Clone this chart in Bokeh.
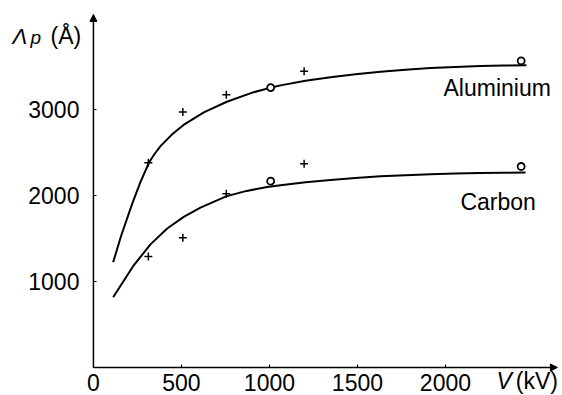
from bokeh.plotting import figure
from bokeh.models import Range1d, Arrow, NormalHead, Label, FixedTicker
from bokeh.embed import file_html
from bokeh.resources import INLINE

# ---- data ----
x_ticks = [0, 500, 1000, 1500, 2000]
y_ticks = [1000, 2000, 3000]

al_curve_kv = [112, 158, 220, 267, 315, 347, 381, 444, 512, 627, 758, 911, 1012, 1063,
               1205, 1347, 1489, 1631, 1773, 1915, 2057, 2199, 2330, 2460]
al_curve_len = [1224, 1534, 1903, 2154, 2380, 2482, 2574, 2705, 2820, 2967, 3090, 3201, 3256, 3280,
                3333, 3375, 3410, 3439, 3462, 3481, 3495, 3505, 3511, 3515]

c_curve_kv = [112, 229, 324, 419, 513, 608, 754, 870, 987, 1063, 1205, 1347, 1489, 1631,
              1773, 1915, 2057, 2199, 2330, 2455]
c_curve_len = [817, 1188, 1431, 1616, 1751, 1858, 1989, 2053, 2098, 2120, 2154, 2180, 2204, 2222,
               2236, 2246, 2254, 2260, 2263, 2266]

al_cross_kv = [312, 508, 755, 1197]
al_cross_len = [2380, 2970, 3170, 3445]
al_circle_kv = [1007, 2430]
al_circle_len = [3255, 3565]

c_cross_kv = [312, 508, 755, 1197]
c_cross_len = [1290, 1508, 2020, 2369]
c_circle_kv = [1007, 2430]
c_circle_len = [2166, 2337]

x_axis_end = 2636
y_axis_end = 4105

FONT = "Liberation Sans"

p = figure(width=562, height=395, output_backend="svg", toolbar_location=None,
           x_range=Range1d(-528, 2665), y_range=Range1d(-326, 4267),
           min_border_left=0, min_border_right=0, min_border_top=0, min_border_bottom=0)
p.outline_line_color = None
p.grid.visible = False
p.background_fill_color = "white"
p.border_fill_color = "white"

for ax in (p.xaxis[0], p.yaxis[0]):
    ax.fixed_location = 0
    ax.axis_line_color = None
    ax.major_tick_in = 3
    ax.major_tick_out = 0
    ax.minor_tick_line_color = None
    ax.major_tick_line_color = "black"
    ax.major_tick_line_width = 1
    ax.major_label_text_font = FONT
    ax.major_label_text_font_size = "23px"
    ax.major_label_text_color = "black"

p.xaxis[0].ticker = FixedTicker(ticks=x_ticks)
p.yaxis[0].ticker = FixedTicker(ticks=y_ticks)
p.xaxis[0].major_label_standoff = 7
p.yaxis[0].major_label_standoff = 14

# axis arrows
p.add_layout(Arrow(x_start=0, y_start=0, x_end=x_axis_end, y_end=0, line_width=1.5, line_color="black",
                   end=NormalHead(size=7, fill_color="black", line_color="black", line_width=1)))
p.add_layout(Arrow(x_start=0, y_start=0, x_end=0, y_end=y_axis_end, line_width=1.5, line_color="black",
                   end=NormalHead(size=7, fill_color="black", line_color="black", line_width=1)))

# curves
p.line(al_curve_kv, al_curve_len, line_color="black", line_width=2, line_join="round")
p.line(c_curve_kv, c_curve_len, line_color="black", line_width=2, line_join="round")

# points
p.scatter(al_cross_kv, al_cross_len, marker="cross", size=8, line_width=1.5, line_color="black")
p.scatter(c_cross_kv, c_cross_len, marker="cross", size=8, line_width=1.5, line_color="black")
p.scatter(al_circle_kv, al_circle_len, marker="circle", size=7, line_width=1.8,
          line_color="black", fill_color="white")
p.scatter(c_circle_kv, c_circle_len, marker="circle", size=7, line_width=1.8,
          line_color="black", fill_color="white")

# texts
def lab(x, y, t, size="23px", style="normal"):
    p.add_layout(Label(x=x, y=y, text=t, text_font=FONT, text_font_size=size,
                       text_font_style=style, text_color="black",
                       text_baseline="alphabetic", text_align="left"))

lab(1989, 3244, "Aluminium")
lab(2085, 1924, "Carbon")
lab(-460, 3850, "Λ", size="22px", style="italic")
lab(-358, 3840, "p", size="19px", style="italic")
lab(-244, 3857, "(Å)")
lab(2290, -163, "V", style="italic")
lab(2400, -163, "(kV)")

open("out.html", "w").write(file_html(p, INLINE))
